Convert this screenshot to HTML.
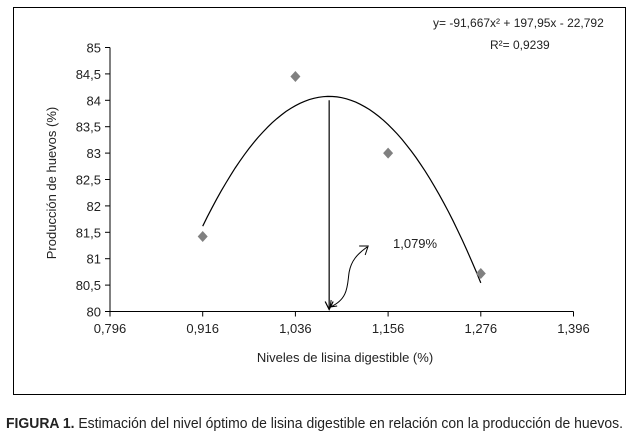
<!DOCTYPE html>
<html><head><meta charset="utf-8"><style>
body{margin:0;background:#fff;}
svg text{font-family:"Liberation Sans",sans-serif;fill:#222;}
</style></head><body>
<svg width="633" height="440" xmlns="http://www.w3.org/2000/svg">
<rect x="13.5" y="7.5" width="612" height="387" fill="none" stroke="#000" stroke-width="1"/>
<g id="g"></g>
<text x="433" y="27" font-size="12">y= -91,667x² + 197,95x - 22,792</text>
<text x="490" y="49" font-size="12">R²= 0,9239</text>
<text x="393" y="248" font-size="13">1,079%</text>
<text transform="translate(56,183) rotate(-90)" text-anchor="middle" font-size="13">Producción de huevos (%)</text>
<text x="345" y="362" text-anchor="middle" font-size="13">Niveles de lisina digestible (%)</text>
<text x="6" y="428" font-size="14.5" font-family="Liberation Sans Narrow, Liberation Sans, sans-serif" textLength="617" lengthAdjust="spacingAndGlyphs"><tspan font-weight="bold">FIGURA 1.</tspan> Estimación del nivel óptimo de lisina digestible en relación con la producción de huevos.</text>
</svg>
<script>
const xTicks=[0.796,0.916,1.036,1.156,1.276,1.396];
const xTickLabels=["0,796","0,916","1,036","1,156","1,276","1,396"];
const yTicks=[80,80.5,81,81.5,82,82.5,83,83.5,84,84.5,85];
const yTickLabels=["80","80,5","81","81,5","82","82,5","83","83,5","84","84,5","85"];
const levels=[0.916,1.036,1.156,1.276];
const production=[81.42,84.45,83.0,80.72];
const coef=[-91.667,197.95,-22.792];
const optimum=1.0797;
const NS="http://www.w3.org/2000/svg";
const g=document.getElementById('g');
const X=v=>110+(v-0.796)/0.6*463.5;
const Y=v=>311.5-(v-80)/5*264;
function mk(t,a){const e=document.createElementNS(NS,t);for(const k in a)e.setAttribute(k,a[k]);g.appendChild(e);return e;}
const y0=Y(80);
let e=mk('line',{x1:110,y1:Y(85),x2:110,y2:y0,stroke:'#000'});


e=mk('line',{x1:110,y1:y0,x2:X(1.396),y2:y0,stroke:'#000'});


yTicks.forEach((v,i)=>{
 let t=mk('line',{x1:105,x2:110,y1:Y(v),y2:Y(v),stroke:'#000'});
 
 
 let l=mk('text',{x:101,y:Y(v)+5,'text-anchor':'end','font-size':13});
 l.textContent=yTickLabels[i];
 
 
});
xTicks.forEach((v,i)=>{
 let t=mk('line',{x1:X(v),x2:X(v),y1:y0,y2:y0+5,stroke:'#000'});
 
 
 let l=mk('text',{x:X(v),y:333,'text-anchor':'middle','font-size':13});
 l.textContent=xTickLabels[i];
 
 
});
let d='';
for(let i=0;i<=60;i++){const x=0.916+(1.276-0.916)*i/60;const y=coef[0]*x*x+coef[1]*x+coef[2];d+=(i?'L':'M')+X(x).toFixed(1)+','+Y(y).toFixed(1);}
e=mk('path',{d:d,fill:'none',stroke:'#000','stroke-width':1.2});


const ox=X(optimum);
e=mk('line',{x1:ox,y1:Y(84),x2:ox,y2:y0-2,stroke:'#000','stroke-width':1.2});


e=mk('path',{d:`M${ox-4},${y0-10} L${ox},${y0-2} L${ox+4},${y0-10}`,fill:'none',stroke:'#000','stroke-width':1.2});


e=mk('path',{d:`M${ox+1},307 C${ox+20},299 ${ox+18},284 ${ox+20},272 C${ox+22},261 ${ox+28},254 ${ox+38},247 M${ox+30},246 L${ox+39},246 L${ox+36},255 M${ox+1},307 L${ox+2},300 M${ox+1},307 L${ox+8},306`,fill:'none',stroke:'#000','stroke-width':1});


levels.forEach((v,i)=>{
 const cx=X(v),cy=Y(production[i]);
 let p=mk('polygon',{points:`${cx},${cy-5.5} ${cx+5},${cy} ${cx},${cy+5.5} ${cx-5},${cy}`,fill:'#808080'});
 
 
});
</script>
</body></html>
